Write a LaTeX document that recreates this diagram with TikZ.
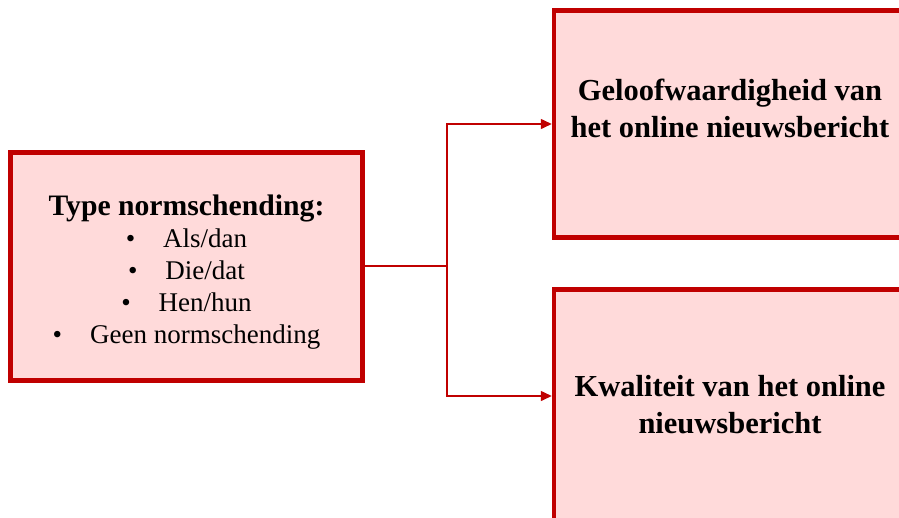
\documentclass[tikz,border=0pt]{standalone}
\usepackage{fontspec}
\setmainfont{Liberation Serif}
\usetikzlibrary{arrows.meta}
\definecolor{boxred}{HTML}{C00000}
\definecolor{boxfill}{HTML}{FFDADA}
\begin{document}
\begin{tikzpicture}[x=1pt,y=-1pt,
  box/.style={draw=boxred, line width=4.5pt, fill=boxfill, rectangle, inner sep=0pt},
  conn/.style={draw=boxred, line width=1.5pt},
  tip/.style={-{Triangle[length=11pt,width=10pt]}},
  bigtext/.style={font=\bfseries\fontsize{30.5}{37}\selectfont, align=center, inner sep=0pt},
  lefttext/.style={font=\fontsize{27}{32}\selectfont, align=center, inner sep=0pt}]
\clip (0,0) rectangle (899,517);
\useasboundingbox (0,0) rectangle (899,517);
\node[box, minimum width=352pt, minimum height=228pt] (left) at (186.5,266.5) {};
\node[box, minimum width=352pt, minimum height=227pt] (top) at (730,124) {};
\node[box, minimum width=352pt, minimum height=250pt] (bot) at (730,414.5) {};
\node[lefttext, anchor=base] (ltext) at (186.5,343) {{\bfseries\fontsize{29.7}{34}\selectfont Type normschending:}\\
\textbullet\hspace{28pt}Als/dan\\
\textbullet\hspace{28pt}Die/dat\\
\textbullet\hspace{28pt}Hen/hun\\
\textbullet\hspace{28pt}Geen normschending};
\node[bigtext, anchor=base] (ttext) at (730,137) {Geloofwaardigheid van\\het online nieuwsbericht};
\node[bigtext, anchor=base] (btext) at (730,433) {Kwaliteit van het online\\nieuwsbericht};
\coordinate (j) at (447,266);
\coordinate (bin) at (551.75,396);
\draw[conn] (left.east |- j) -- (j);
\draw[conn, tip] (j) |- (top.west);
\draw[conn, tip] (j) |- (bin);
\end{tikzpicture}
\end{document}
